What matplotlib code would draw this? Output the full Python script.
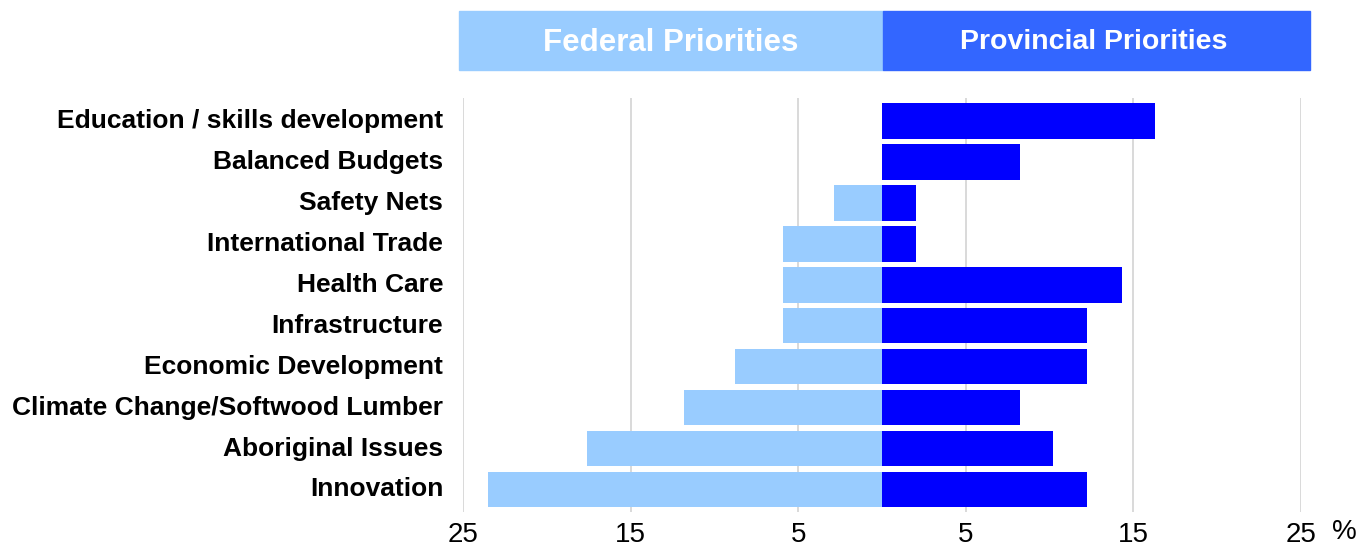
import matplotlib
matplotlib.use("Agg")
import matplotlib.pyplot as plt
from matplotlib.patches import Rectangle
from matplotlib.transforms import offset_copy

plt.rcParams['font.family'] = ['Liberation Sans', 'DejaVu Sans']

categories = [
    "Education / skills development",
    "Balanced Budgets",
    "Safety Nets",
    "International Trade",
    "Health Care",
    "Infrastructure",
    "Economic Development",
    "Climate Change/Softwood Lumber",
    "Aboriginal Issues",
    "Innovation",
]
federal = [0.0, 0.0, 2.9, 5.9, 5.9, 5.9, 8.8, 11.8, 17.6, 23.5]
provincial = [16.3, 8.2, 2.0, 2.0, 14.3, 12.2, 12.2, 8.2, 10.2, 12.2]
tick_values = [-25, -15, -5, 5, 15, 25]
tick_labels = ["25", "15", "5", "5", "15", "25"]

FED_COLOR = "#99CCFF"
PROV_COLOR = "#0000FF"
PROV_HEADER = "#3366FF"

W, H = 1372, 546
fig = plt.figure(figsize=(W / 100, H / 100), dpi=100)

ax_left, ax_right = 463.3, 1301.0
ax_top, ax_bottom = 98.0, 512.0
ax = fig.add_axes([ax_left / W, 1 - ax_bottom / H,
                   (ax_right - ax_left) / W, (ax_bottom - ax_top) / H])

y = list(range(len(categories)))
ax.barh(y, [-v for v in federal], height=0.87, color=FED_COLOR, zorder=3)
ax.barh(y, provincial, height=0.87, color=PROV_COLOR, zorder=3)

ax.set_xlim(-25, 25)
ax.set_ylim(len(categories) - 1 + 0.55, -0.56)

for v in tick_values:
    ax.axvline(v, color="#D9D9D9", linewidth=1.4, zorder=1)

ax.set_xticks(tick_values)
ax.set_xticklabels(tick_labels, fontsize=20)
ax.set_yticks(y)
ax.set_yticklabels([])
ax.tick_params(axis="both", length=0)
ax.tick_params(axis="x", pad=7)
for s in ax.spines.values():
    s.set_visible(False)

# category names, right-aligned left of the plot
label_tr = offset_copy(ax.get_yaxis_transform(), fig=fig, x=-20, y=0, units="dots")
for i, name in enumerate(categories):
    ax.text(0, i, name, transform=label_tr, ha="right", va="center",
            fontsize=19, fontweight="bold")

fig.text(1344 / W, 1 - 532 / H, "%", fontsize=20, ha="center", va="center")

# header bands above the two halves
hy0, hy1 = 11.0, 69.7
fig.patches.append(Rectangle((459 / W, 1 - hy1 / H), (883 - 459) / W, (hy1 - hy0) / H,
                             transform=fig.transFigure, color=FED_COLOR, zorder=0))
fig.patches.append(Rectangle((883 / W, 1 - hy1 / H), (1310 - 883) / W, (hy1 - hy0) / H,
                             transform=fig.transFigure, color=PROV_HEADER, zorder=0))
fig.text(671 / W, 1 - 43 / H, "Federal Priorities", fontsize=22.5, fontweight="bold",
         color="white", ha="center", va="center")
fig.text(1094 / W, 1 - 42 / H, "Provincial Priorities", fontsize=20.5, fontweight="bold",
         color="white", ha="center", va="center")

fig.savefig("out.png", dpi=100)
